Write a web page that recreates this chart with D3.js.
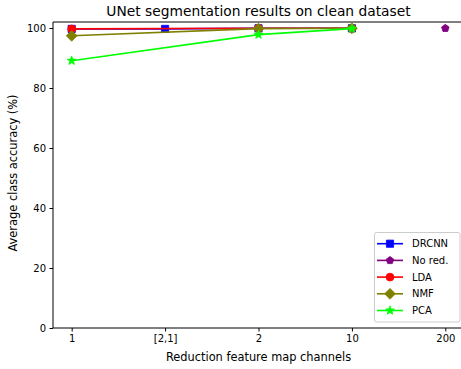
<!DOCTYPE html>
<html>
<head>
<meta charset="utf-8">
<script src="https://cdn.jsdelivr.net/npm/d3@7"></script>
<style>
  html, body { margin: 0; padding: 0; background: #fff; }
  svg { display: block; font-family: "DejaVu Sans", sans-serif; }
</style>
</head>
<body>
<svg id="chart" width="461" height="369"></svg>
<script>
// Channel categories along the x axis
const categories = ["1", "[2,1]", "2", "10", "200"];
const yTicks = [0, 20, 40, 60, 80, 100];

// Accuracy (%) per method, keyed by channel category
const drcnn = [["1", 99.7], ["[2,1]", 99.7], ["2", 99.9], ["10", 99.9]];
const noRed = [["200", 99.9]];
const lda   = [["1", 99.7], ["2", 99.9], ["10", 99.9]];
const nmf   = [["1", 97.4], ["2", 99.8], ["10", 99.9]];
const pca   = [["1", 89.1], ["2", 97.8], ["10", 99.8]];

const series = [
  { name: "DRCNN",   data: drcnn, color: "#0000ff", symbol: "square" },
  { name: "No red.", data: noRed, color: "#800080", symbol: "pentagon" },
  { name: "LDA",     data: lda,   color: "#ff0000", symbol: "circle" },
  { name: "NMF",     data: nmf,   color: "#808000", symbol: "diamond" },
  { name: "PCA",     data: pca,   color: "#00ff00", symbol: "star" }
];

const svg = d3.select("#chart");
const margin = { left: 53, top: 22, right: 464, bottom: 328 };

const x = d3.scalePoint().domain(categories)
  .range([margin.left, margin.right]).padding(0.2);
const y = d3.scaleLinear().domain([0, 102]).range([margin.bottom, margin.top]);

// Marker shapes
function markerPath(sym, s) {
  if (sym === "square") return `M${-s},${-s}H${s}V${s}H${-s}Z`;
  if (sym === "diamond") return `M0,${-s*1.5}L${s*1.5},0L0,${s*1.5}L${-s*1.5},0Z`;
  if (sym === "circle") return d3.symbol().type(d3.symbolCircle).size(Math.PI * s * s * 1.2)();
  if (sym === "pentagon" || sym === "star") {
    const n = 5, pts = [];
    const outer = s * (sym === "star" ? 1.3 : 1.1), inner = sym === "star" ? outer * 0.42 : null;
    for (let i = 0; i < n; i++) {
      const a = -Math.PI / 2 + i * 2 * Math.PI / n;
      pts.push([outer * Math.cos(a), outer * Math.sin(a)]);
      if (inner) {
        const b = a + Math.PI / n;
        pts.push([inner * Math.cos(b), inner * Math.sin(b)]);
      }
    }
    return "M" + pts.map(p => p.join(",")).join("L") + "Z";
  }
}

// Spines: left, bottom, top
const plot = svg.append("g");
plot.append("line").attr("x1", margin.left).attr("x2", margin.left)
  .attr("y1", margin.top).attr("y2", margin.bottom).attr("stroke", "#000").attr("stroke-width", 1);
plot.append("line").attr("x1", margin.left).attr("x2", 461)
  .attr("y1", margin.bottom).attr("y2", margin.bottom).attr("stroke", "#000").attr("stroke-width", 1);
plot.append("line").attr("x1", margin.left).attr("x2", 461)
  .attr("y1", margin.top).attr("y2", margin.top).attr("stroke", "#000").attr("stroke-width", 1);

// Axes
const xAxis = svg.append("g").attr("transform", `translate(0,${margin.bottom})`)
  .call(d3.axisBottom(x).tickSizeOuter(0).tickSize(3.5).tickPadding(3.5));
const yAxis = svg.append("g").attr("transform", `translate(${margin.left},0)`)
  .call(d3.axisLeft(y).tickValues(yTicks).tickSizeOuter(0).tickSize(3.5).tickPadding(3.5));
[xAxis, yAxis].forEach(g => {
  g.select(".domain").remove();
  g.selectAll("text").attr("font-size", 10).attr("fill", "#000")
    .attr("font-family", "DejaVu Sans, sans-serif");
  g.selectAll("line").attr("stroke", "#000");
});

// Lines and markers
const line = d3.line().x(d => x(d[0])).y(d => y(d[1]));
series.forEach(s => {
  const g = svg.append("g");
  g.append("path").datum(s.data).attr("d", line)
    .attr("fill", "none").attr("stroke", s.color).attr("stroke-width", 1.6);
  g.selectAll("path.m").data(s.data).enter().append("path").attr("class", "m")
    .attr("transform", d => `translate(${x(d[0])},${y(d[1])})`)
    .attr("d", markerPath(s.symbol, 3.6))
    .attr("fill", s.color).attr("stroke", s.color).attr("stroke-width", 0.8);
});

// Title and axis labels
svg.append("text").attr("x", 258.5).attr("y", 15.5).attr("text-anchor", "middle")
  .attr("font-size", 13.8).text("UNet segmentation results on clean dataset");
svg.append("text").attr("x", 258.5).attr("y", 361).attr("text-anchor", "middle")
  .attr("font-size", 11.4).text("Reduction feature map channels");
svg.append("text").attr("transform", "translate(17,173) rotate(-90)")
  .attr("text-anchor", "middle").attr("font-size", 11.4).text("Average class accuracy (%)");

// Legend
const lg = svg.append("g");
lg.append("rect").attr("x", 374.5).attr("y", 232.5).attr("width", 85.5).attr("height", 89.5)
  .attr("rx", 2).attr("fill", "#fff").attr("fill-opacity", 0.8).attr("stroke", "#ccc");
series.forEach((s, i) => {
  const cy = 243.7 + i * 16.7;
  lg.append("line").attr("x1", 377).attr("x2", 403).attr("y1", cy).attr("y2", cy)
    .attr("stroke", s.color).attr("stroke-width", 1.6);
  lg.append("path").attr("transform", `translate(390,${cy})`)
    .attr("d", markerPath(s.symbol, 3.6)).attr("fill", s.color).attr("stroke", s.color).attr("stroke-width", 0.8);
  lg.append("text").attr("x", 412).attr("y", cy).attr("dy", "0.35em")
    .attr("font-size", 10).text(s.name);
});
</script>
</body>
</html>
